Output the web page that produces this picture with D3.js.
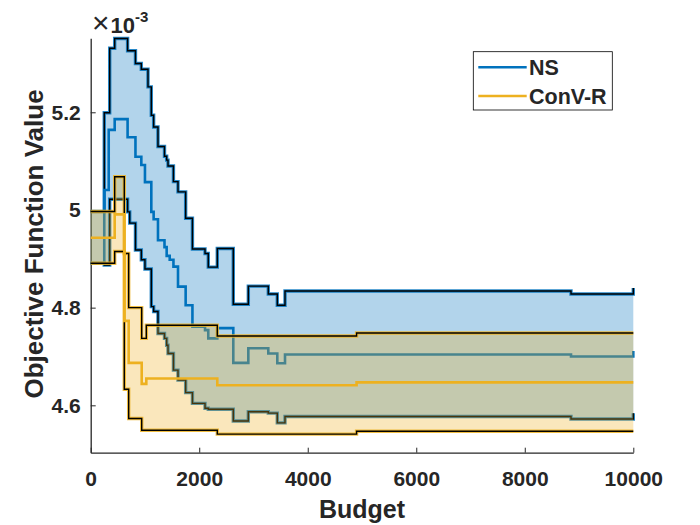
<!DOCTYPE html>
<html>
<head>
<meta charset="utf-8">
<script src="https://cdn.jsdelivr.net/npm/d3@7"></script>
<style>
  body { margin: 0; background: #fff; }
  text { font-family: "Liberation Sans", Arial, Helvetica, sans-serif; font-weight: bold; fill: #262626; }
</style>
</head>
<body>
<div id="vis-container"></div>
<script>
// budget grid and step values (x 1e-3) for NS
var nsBudget = [0, 250, 332, 350, 442, 680, 719, 825, 933, 1000, 1056, 1117, 1160, 1240, 1360, 1400, 1425, 1456, 1525, 1609, 1750, 1875, 2107, 2167, 2333, 2628, 2905, 3273, 3439, 3581, 8852, 10000];
var nsUpper  = [4.997, 5.199, 5.199, 5.331, 5.351, 5.326, 5.326, 5.300, 5.288, 5.288, 5.252, 5.194, 5.170, 5.130, 5.110, 5.102, 5.090, 5.090, 5.058, 5.037, 4.983, 4.920, 4.911, 4.883, 4.921, 4.807, 4.844, 4.828, 4.805, 4.834, 4.828, 4.840];
var nsMedian = [4.891, 5.041, 5.164, 5.164, 5.186, 5.149, 5.149, 5.109, 5.092, 5.057, 5.057, 4.996, 4.981, 4.938, 4.924, 4.906, 4.906, 4.898, 4.884, 4.843, 4.805, 4.761, 4.754, 4.737, 4.758, 4.687, 4.717, 4.706, 4.686, 4.704, 4.700, 4.711];
var nsLower  = [4.891, 4.887, 4.887, 5.022, 5.022, 4.996, 4.973, 4.918, 4.898, 4.879, 4.879, 4.802, 4.792, 4.747, 4.737, 4.723, 4.706, 4.706, 4.672, 4.652, 4.626, 4.604, 4.594, 4.592, 4.592, 4.568, 4.587, 4.584, 4.564, 4.577, 4.572, 4.584];

// budget grid and step values (x 1e-3) for ConV-R
var cvBudget = [0, 442, 619, 700, 940, 1025, 2333, 4900, 10000];
var cvUpper  = [4.997, 5.068, 4.911, 4.800, 4.737, 4.764, 4.742, 4.748, 4.748];
var cvMedian = [4.943, 4.991, 4.773, 4.687, 4.644, 4.655, 4.641, 4.647, 4.647];
var cvLower  = [4.891, 4.915, 4.633, 4.573, 4.549, 4.549, 4.541, 4.547, 4.547];

var xTicks = [0, 2000, 4000, 6000, 8000, 10000];
var yTicks = [4.6, 4.8, 5, 5.2];
var seriesNames = ["NS", "ConV-R"];
var seriesColors = ["#0072BD", "#EDB120"];

var width = 700, height = 525;
var plotLeft = 90.7, plotRight = 633.3, plotTop = 38.3, plotBottom = 452.7;

var svg = d3.select("#vis-container")
  .append("svg")
  .attr("width", width)
  .attr("height", height);

var x = d3.scaleLinear().domain([0, 10000]).range([plotLeft, plotRight]);
var y = d3.scaleLinear().domain([4.503, 5.3515]).range([plotBottom, plotTop]);

// axes first, data on top (MATLAB layer bottom)
var xAxis = svg.append("g")
  .attr("transform", "translate(0," + plotBottom + ")")
  .call(d3.axisBottom(x).tickValues(xTicks).tickFormat(d3.format("d")).tickSizeInner(-5).tickSizeOuter(0).tickPadding(18));
var yAxis = svg.append("g")
  .attr("transform", "translate(" + plotLeft + ",0)")
  .call(d3.axisLeft(y).tickValues(yTicks).tickFormat(function(d) { return d3.format("")(d); }).tickSizeInner(-5).tickSizeOuter(0).tickPadding(10));

[xAxis, yAxis].forEach(function(ax) {
  ax.select(".domain").attr("stroke", "#262626").attr("stroke-width", 1.3);
  ax.selectAll(".tick line").attr("stroke", "#262626").attr("stroke-width", 1);
  ax.selectAll(".tick text").attr("font-size", 21).attr("fill", "#262626")
    .style("font-family", "'Liberation Sans', Arial, sans-serif").style("font-weight", "bold");
});

var plot = svg.append("g");

function drawBand(budget, upper, median, lower, color) {
  var pts = budget.map(function(b, i) { return { b: b, u: upper[i], m: median[i], l: lower[i] }; });

  var area = d3.area().curve(d3.curveStepAfter)
    .x(function(d) { return x(d.b); })
    .y0(function(d) { return y(d.l); })
    .y1(function(d) { return y(d.u); });

  plot.append("path")
    .attr("d", area(pts))
    .attr("fill", color)
    .attr("fill-opacity", 0.3)
    .attr("stroke", "none");

  ["u", "l"].forEach(function(k) {
    var line = d3.line().curve(d3.curveStepAfter)
      .x(function(d) { return x(d.b); })
      .y(function(d) { return y(d[k]); });
    // coloured edge with a black line inside
    plot.append("path").attr("d", line(pts)).attr("fill", "none")
      .attr("stroke", color).attr("stroke-opacity", 0.85).attr("stroke-width", 3.4);
    plot.append("path").attr("d", line(pts)).attr("fill", "none")
      .attr("stroke", "#000").attr("stroke-width", 1.4);
  });

  var mline = d3.line().curve(d3.curveStepAfter)
    .x(function(d) { return x(d.b); })
    .y(function(d) { return y(d.m); });
  plot.append("path").attr("d", mline(pts)).attr("fill", "none")
    .attr("stroke", color).attr("stroke-width", 2.6);
}

drawBand(nsBudget, nsUpper, nsMedian, nsLower, seriesColors[0]);
drawBand(cvBudget, cvUpper, cvMedian, cvLower, seriesColors[1]);

// exponent label
var expo = svg.append("text").attr("x", 92).attr("y", 33);
expo.append("tspan").attr("font-size", 30).style("font-weight", "normal").text("\u00d7");
expo.append("tspan").attr("font-size", 22).attr("dx", 1).text("10");
expo.append("tspan").attr("font-size", 15).attr("dy", -11).text("-3");

// axis labels
svg.append("text")
  .attr("x", (plotLeft + plotRight) / 2)
  .attr("y", 518)
  .attr("text-anchor", "middle")
  .attr("font-size", 25)
  .text("Budget");

svg.append("text")
  .attr("transform", "translate(43," + 244 + ") rotate(-90)")
  .attr("text-anchor", "middle")
  .attr("font-size", 26)
  .text("Objective Function Value");

// legend
var legend = svg.append("g");
legend.append("rect")
  .attr("x", 473.3).attr("y", 51.7)
  .attr("width", 139).attr("height", 58.3)
  .attr("fill", "#fff").attr("stroke", "#000").attr("stroke-width", 0.8);
seriesNames.forEach(function(name, i) {
  var ly = 67.3 + i * 28.7;
  legend.append("line")
    .attr("x1", 478.3).attr("x2", 526.7)
    .attr("y1", ly).attr("y2", ly)
    .attr("stroke", seriesColors[i]).attr("stroke-width", 2.6);
  legend.append("text")
    .attr("x", 529).attr("y", ly)
    .attr("dy", "0.36em")
    .attr("font-size", 21.5)
    .text(name);
});
</script>
</body>
</html>
